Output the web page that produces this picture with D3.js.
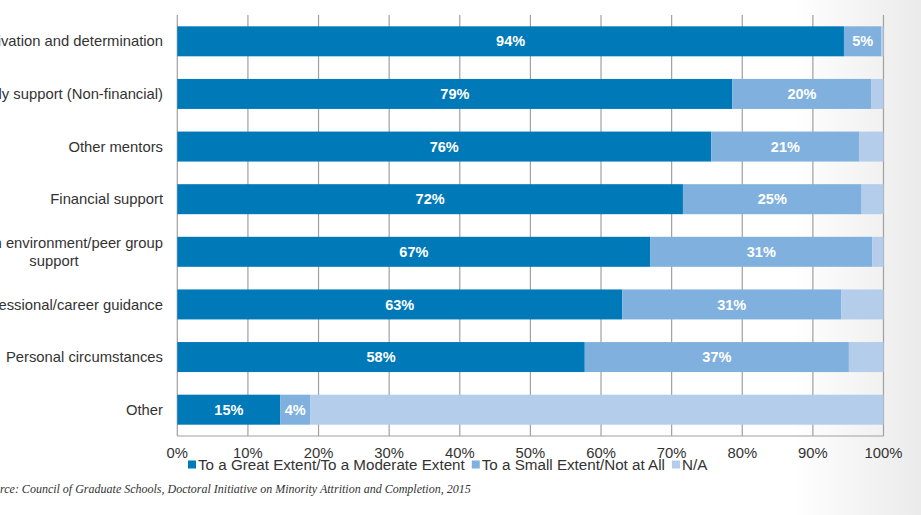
<!DOCTYPE html>
<html><head><meta charset="utf-8">
<script src="https://cdn.jsdelivr.net/npm/d3@7"></script>
<style>html,body{margin:0;padding:0;background:#fff;}svg{display:block;}</style>
</head><body>
<svg id="c" width="921" height="515"></svg>
<script>
const categories = ["Motivation and determination","Family support (Non-financial)","Other mentors","Financial support","Program environment/peer group support","Professional/career guidance","Personal circumstances","Other"];
const greatExtent = [94.4, 78.6, 75.6, 71.6, 67.0, 63.0, 57.7, 14.6];
const smallExtent = [5.3, 19.7, 21.0, 25.3, 31.4, 31.0, 37.4, 4.2];
const notApplicable = categories.map((c,i)=> 100 - greatExtent[i] - smallExtent[i]);
const seriesNames = ["To a Great Extent/To a Moderate Extent","To a Small Extent/Not at All","N/A"];
const seriesColors = ["#0079b8","#80b1de","#b3cdea"];
const tickValues = [0,10,20,30,40,50,60,70,80,90,100];
const sourceText = "Source:  Council of Graduate Schools, Doctoral Initiative on Minority Attrition and Completion, 2015";

const svg = d3.select("#c");
const W=921,H=515;
const FONT = "Liberation Sans, Arial, sans-serif";
const defs = svg.append("defs");
const g1 = defs.append("linearGradient").attr("id","bg").attr("x1","0").attr("x2","1").attr("y1","0").attr("y2","0");
g1.append("stop").attr("offset","0.86").attr("stop-color","#ffffff");
g1.append("stop").attr("offset","1").attr("stop-color","#ebebeb");
svg.append("rect").attr("width",W).attr("height",H).attr("fill","url(#bg)");

const x = d3.scaleLinear().domain([0,100]).range([177.3,883.5]);
const y = d3.scaleBand().domain(categories).range([15,436]).paddingInner(0.43).paddingOuter(0.215);

// grid
svg.append("g").selectAll("line").data(tickValues).join("line")
  .attr("x1",d=>x(d)).attr("x2",d=>x(d)).attr("y1",15).attr("y2",436)
  .attr("stroke","#a0a0a0").attr("stroke-width",1.2);
svg.append("line").attr("x1",x(0)).attr("x2",x(100)).attr("y1",436).attr("y2",436).attr("stroke","#a0a0a0").attr("stroke-width",1.2);

const rows = categories.map((c,i)=>({c, vals:[greatExtent[i],smallExtent[i],notApplicable[i]]}));
const stackData = rows.map(r=>{let acc=0; return r.vals.map((v,k)=>{const s={c:r.c,k,x0:acc,x1:acc+v,v}; acc+=v; return s;});}).flat();

svg.append("g").selectAll("rect").data(stackData).join("rect")
  .attr("x",d=>x(d.x0)).attr("width",d=>x(d.x1)-x(d.x0))
  .attr("y",d=>y(d.c)).attr("height",y.bandwidth())
  .attr("fill",d=>seriesColors[d.k]);

svg.append("g").selectAll("text").data(stackData.filter(d=>d.k<2)).join("text")
  .attr("x",d=>(x(d.x0)+x(d.x1))/2).attr("y",d=>y(d.c)+y.bandwidth()/2)
  .attr("dy","0.35em").attr("text-anchor","middle")
  .attr("font-family",FONT).attr("font-weight","bold").attr("font-size",14.5)
  .attr("fill","#ffffff").text(d=>Math.round(d.v)+"%");

// category labels
const catG = svg.append("g").attr("font-family",FONT).attr("font-size",14.8).attr("fill","#333");
categories.forEach(c=>{
  const cy = y(c)+y.bandwidth()/2;
  if(c==="Program environment/peer group support"){
    const t1 = catG.append("text").attr("x",163).attr("y",cy-8.5).attr("dy","0.35em").attr("text-anchor","end").text("Program environment/peer group");
    const w = t1.node().getComputedTextLength();
    catG.append("text").attr("x",163-w/2).attr("y",cy+9).attr("dy","0.35em").attr("text-anchor","middle").text("support");
  } else {
    catG.append("text").attr("x",163).attr("y",cy).attr("dy","0.35em").attr("text-anchor","end").text(c);
  }
});

// x tick labels
svg.append("g").selectAll("text").data(tickValues).join("text")
  .attr("x",d=>x(d)).attr("y",453).attr("dy","0.35em").attr("text-anchor","middle")
  .attr("font-family",FONT).attr("font-size",14.8).attr("fill","#333")
  .text(d=>d+"%");

// legend
const lg = svg.append("g").attr("font-family",FONT).attr("font-size",15.2).attr("fill","#333");
let lx = 188;
seriesNames.forEach((n,i)=>{
  lg.append("rect").attr("x",lx).attr("y",460.5).attr("width",8).attr("height",8).attr("fill",seriesColors[i]);
  const t = lg.append("text").attr("x",lx+10).attr("y",465).attr("dy","0.35em").text(n);
  lx += 10 + t.node().getComputedTextLength() + 7;
});

// source
const SF = "Liberation Serif, Times New Roman, serif";
const st = svg.append("text").attr("font-family",SF).attr("font-style","italic").attr("font-size",12).attr("fill","#333").attr("y",489).attr("dy","0.35em").text(sourceText);
const tmp = svg.append("text").attr("font-family",SF).attr("font-style","italic").attr("font-size",12).text("Sou");
const sw = tmp.node().getComputedTextLength(); tmp.remove();
st.attr("x",-sw);
</script>
</body></html>
